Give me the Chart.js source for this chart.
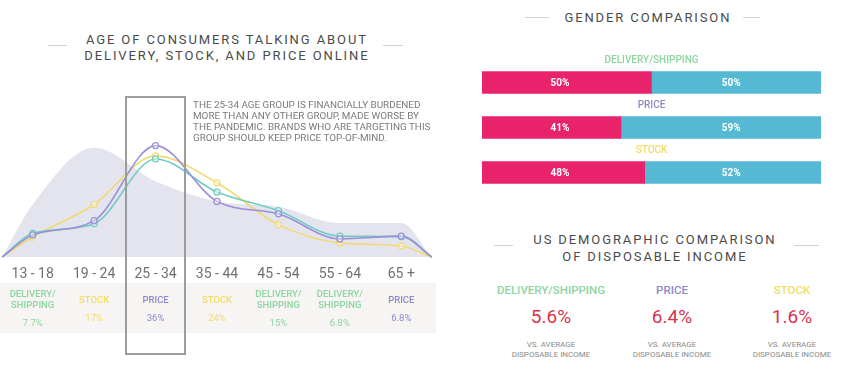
<!DOCTYPE html>
<html>
<head>
<meta charset="utf-8">
<script src="https://cdn.jsdelivr.net/npm/chart.js@4.4.0/dist/chart.umd.min.js"></script>
<style>
  body { margin: 0; background: #fff; font-family: Roboto, "Noto Sans", sans-serif; }
  #page { position: relative; width: 850px; height: 390px; overflow: hidden; }
  .title { position: absolute; text-align: center; color: #4a4a4a; font-size: 13px; line-height: 15.5px; letter-spacing: 1.9px; padding-left: 1.9px; }
  .rule { position: absolute; height: 1px; background: #d2d2d2; }
  #lineCanvas { position: absolute; left: 2px; top: 96px; }
  #barCanvas { position: absolute; left: 482px; top: 48px; }
  #band { position: absolute; left: 0; top: 283px; width: 436px; height: 50px; background: #f6f5f3; }
  .cell { position: absolute; top: 283px; height: 50px; width: 70px; display: flex; flex-direction: column; justify-content: center; align-items: center; text-align: center; font-size: 9.5px; line-height: 11px; font-weight: 500; }
  .cell .v { margin-top: 7px; font-weight: 400; }
  #box { position: absolute; top: 96px; height: 259px; border: 2px solid #9c9c9c; box-sizing: border-box; }
  #note { position: absolute; left: 193px; top: 99px; width: 260px; font-size: 9.9px; line-height: 11px; color: #7a7a7a; white-space: nowrap; }
  .inc { position: absolute; width: 140px; text-align: center; }
  .inc .t { font-size: 11.5px; font-weight: 500; height: 14px; }
  .inc .n { font-size: 19px; color: #d7334f; margin-top: 8px; }
  .inc .s { font-size: 8px; line-height: 10px; color: #8a8a8a; margin-top: 12px; }
</style>
</head>
<body>
<div id="page">
  <div class="title" style="left:0; width:450px; top:32px;">AGE OF CONSUMERS TALKING ABOUT<br>DELIVERY, STOCK, AND PRICE ONLINE</div>
  <div class="rule" style="left:48px; width:19px; top:45px;"></div>
  <div class="rule" style="left:383px; width:20px; top:45px;"></div>

  <div class="title" style="left:546px; width:200px; top:10px;">GENDER COMPARISON</div>
  <div class="rule" style="left:525px; width:24px; top:17px;"></div>
  <div class="rule" style="left:743px; width:17px; top:17px;"></div>

  <div class="title" style="left:503px; width:300px; top:231px; line-height:17px;">US DEMOGRAPHIC COMPARISON<br>OF DISPOSABLE INCOME</div>
  <div class="rule" style="left:494px; width:19px; top:245px;"></div>
  <div class="rule" style="left:794px; width:25px; top:245px;"></div>

  <div id="band"></div>
  <canvas id="lineCanvas" width="430" height="188"></canvas>
  <div id="box"></div>
  <div id="note">THE 25-34 AGE GROUP IS FINANCIALLY BURDENED<br>MORE THAN ANY OTHER GROUP, MADE WORSE BY<br>THE PANDEMIC. BRANDS WHO ARE TARGETING THIS<br>GROUP SHOULD KEEP PRICE TOP-OF-MIND.</div>

  <canvas id="barCanvas" width="339" height="147"></canvas>
</div>
<script>
// age groups and share of each topic's conversation (%)
var ages = ['13 - 18', '19 - 24', '25 - 34', '35 - 44', '45 - 54', '55 - 64', '65 +'];
var deliveryShare = [7.7, 10.8, 31.7, 21, 15, 6.8, 6.6];
var stockShare = [6.5, 17, 32.7, 24, 10.5, 4.6, 3.6];
var priceShare = [7.2, 11.8, 36, 18, 14, 5.9, 6.8];
var allShare = [17, 35.3, 24.5, 18, 16.3, 11, 11];

// top topic for each age group
var topTopic = ['DELIVERY/SHIPPING', 'STOCK', 'PRICE', 'STOCK', 'DELIVERY/SHIPPING', 'DELIVERY/SHIPPING', 'PRICE'];
var topValue = [7.7, 17, 36, 24, 15, 6.8, 6.8];

// gender comparison
var genderTopics = ['DELIVERY/SHIPPING', 'PRICE', 'STOCK'];
var femaleShare = [50, 41, 48];
var maleShare = [50, 59, 52];

// disposable income
var incomeTopics = ['DELIVERY/SHIPPING', 'PRICE', 'STOCK'];
var incomeDiff = [5.6, 6.4, 1.6];

var topicColors = {
    'DELIVERY/SHIPPING': '#8dd5a1',
    'PRICE': '#8f88c9',
    'STOCK': '#f1dd64'
};

// add zero points half a step before the first and after the last age group
function toPoints(values) {
    var pts = [{ x: -0.5, y: 0 }];
    values.forEach(function(v, i) { pts.push({ x: i, y: v }); });
    pts.push({ x: values.length - 0.5, y: 0 });
    return pts;
}
function radii(values) {
    return [0].concat(values.map(function() { return 3; })).concat([0]);
}

function lineSet(label, values, color, order) {
    return {
        label: label,
        data: toPoints(values),
        borderColor: color,
        borderWidth: 1.6,
        pointRadius: radii(values),
        pointBorderWidth: 1.2,
        pointBackgroundColor: 'rgba(255,255,255,0.4)',
        pointBorderColor: color,
        cubicInterpolationMode: 'monotone',
        fill: false,
        order: order
    };
}

var lineChart = new Chart(document.getElementById('lineCanvas').getContext('2d'), {
    type: 'line',
    data: {
        datasets: [
            lineSet('Price', priceShare, '#9a8fd8', 0),
            lineSet('Delivery/Shipping', deliveryShare, '#70cdc2', 1),
            lineSet('Stock', stockShare, '#f1da72', 2),
            {
                label: 'All',
                data: toPoints(allShare),
                borderWidth: 0,
                pointRadius: 0,
                backgroundColor: '#e3e4ee',
                fill: 'origin',
                cubicInterpolationMode: 'monotone',
                order: 10
            }
        ]
    },
    options: {
        responsive: false,
        animation: false,
        clip: false,
        plugins: { legend: { display: false }, tooltip: { enabled: false } },
        scales: {
            x: {
                type: 'linear',
                min: -0.5,
                max: ages.length - 0.5,
                grid: { display: false },
                border: { display: false },
                afterBuildTicks: function(scale) {
                    scale.ticks = ages.map(function(a, i) { return { value: i }; });
                },
                ticks: {
                    autoSkip: false,
                    maxRotation: 0,
                    padding: 1,
                    color: '#707070',
                    font: { family: 'Roboto', size: 14 },
                    callback: function(v) { return ages[Math.round(v)]; }
                }
            },
            y: { display: false, min: 0, max: 52 }
        }
    }
});

// table under the age axis + highlight box, placed from the x scale
var xs = lineChart.scales.x;
var step = xs.getPixelForValue(1) - xs.getPixelForValue(0);
var page = document.getElementById('page');
ages.forEach(function(a, i) {
    var cx = 2 + xs.getPixelForValue(i);
    var cell = document.createElement('div');
    cell.className = 'cell';
    cell.style.left = (cx - 35) + 'px';
    cell.style.color = topicColors[topTopic[i]];
    cell.innerHTML = '<div>' + topTopic[i].replace('/', '/<br>') + '</div><div class="v">' + topValue[i] + '%</div>';
    page.insertBefore(cell, document.getElementById('box'));
});
var box = document.getElementById('box');
var bx = 2 + xs.getPixelForValue(2);
box.style.left = Math.round(bx - step / 2) + 'px';
box.style.width = Math.round(step) + 'px';

// gender bars
var barText = {
    id: 'barText',
    afterDatasetsDraw: function(chart) {
        var ctx = chart.ctx;
        var x = chart.scales.x, y = chart.scales.y;
        ctx.save();
        ctx.textAlign = 'center';
        ctx.textBaseline = 'middle';
        genderTopics.forEach(function(t, i) {
            var cy = y.getPixelForValue(i);
            ctx.font = '500 10px Roboto';
            ctx.fillStyle = topicColors[t];
            ctx.fillText(t, x.getPixelForValue(50), cy - 22);
            ctx.font = 'bold 10px Roboto';
            ctx.fillStyle = '#ffffff';
            ctx.fillText(femaleShare[i] + '%', x.getPixelForValue(23), cy + 1);
            ctx.fillText(maleShare[i] + '%', x.getPixelForValue(73.5), cy + 1);
        });
        ctx.restore();
    }
};

new Chart(document.getElementById('barCanvas').getContext('2d'), {
    type: 'bar',
    data: {
        labels: genderTopics,
        datasets: [
            { label: 'Female', data: femaleShare, backgroundColor: '#e8236c', barThickness: 22 },
            { label: 'Male', data: maleShare, backgroundColor: '#55b9d3', barThickness: 22 }
        ]
    },
    options: {
        indexAxis: 'y',
        responsive: false,
        animation: false,
        layout: { padding: { top: 12 } },
        plugins: { legend: { display: false }, tooltip: { enabled: false } },
        scales: {
            x: { display: false, stacked: true, min: 0, max: 100 },
            y: { display: false, stacked: true }
        }
    },
    plugins: [barText]
});

// disposable income figures
var incomeCenters = [551, 672, 792];
incomeTopics.forEach(function(t, i) {
    var d = document.createElement('div');
    d.className = 'inc';
    d.style.left = (incomeCenters[i] - 70) + 'px';
    d.style.top = '283px';
    d.innerHTML = '<div class="t" style="color:' + topicColors[t] + '">' + t + '</div>' +
        '<div class="n">' + incomeDiff[i] + '%</div>' +
        '<div class="s">VS. AVERAGE<br>DISPOSABLE INCOME</div>';
    page.appendChild(d);
});
</script>
</body>
</html>
